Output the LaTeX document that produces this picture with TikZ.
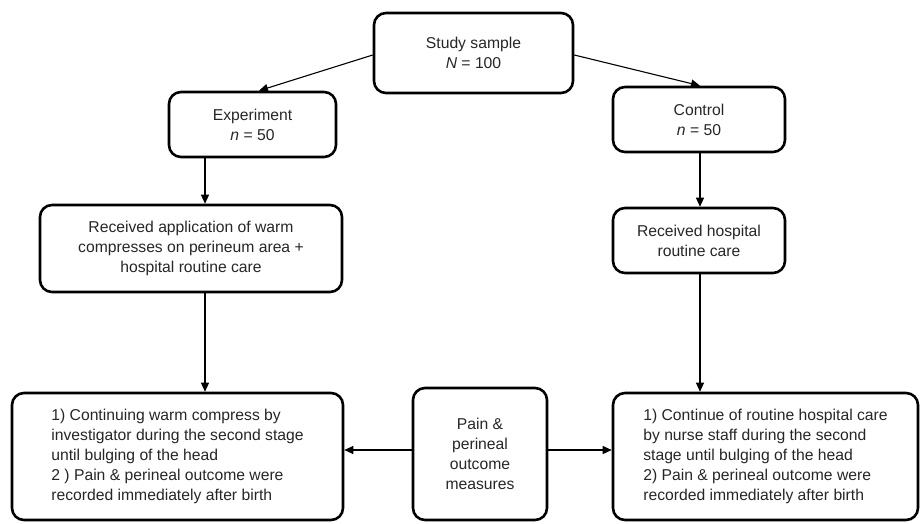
\documentclass[tikz,border=0pt]{standalone}
\usepackage{fontspec}
\setmainfont{Liberation Sans}
\usetikzlibrary{arrows.meta}
\begin{document}
\begin{tikzpicture}[x=1pt,y=-1pt,
  box/.style={draw=black, line width=2.6pt, rounded corners=12pt, inner sep=0pt,
    font=\fontsize{15.7}{20}\selectfont, text=black!85},
  arr/.style={line width=1.1pt, -{Triangle[length=9pt,width=8pt]}}]
\useasboundingbox (0,0) rectangle (921,523);
\node[box, minimum width=199pt, minimum height=80pt, align=center] (study) at (473.5,53) {Study sample\\\textit{N} = 100};
\node[box, minimum width=167pt, minimum height=65pt, align=center] (exp) at (252.5,124.5) {Experiment\\\textit{n} = 50};
\node[box, minimum width=172pt, minimum height=65pt, align=center] (ctl) at (699,119.5) {Control\\\textit{n} = 50};
\node[box, minimum width=302pt, minimum height=87pt, align=center] (rw) at (191,248.5) {Received application of warm\\compresses on perineum area +\\hospital routine care};
\node[box, minimum width=172pt, minimum height=65pt, align=center] (rh) at (699,240.5) {Received hospital\\routine care};
\node[box, minimum width=331pt, minimum height=127pt, align=left] (lb) at (177.5,456.5) {1) Continuing warm compress by\\investigator during the second stage\\until bulging of the head\\2 ) Pain \& perineal outcome were\\recorded immediately after birth};
\node[box, minimum width=134pt, minimum height=132pt, align=center] (mid) at (480,454) {Pain \&\\perineal\\outcome\\measures};
\node[box, minimum width=305pt, minimum height=127pt, align=left] (rb) at (765.5,456.5) {1) Continue of routine hospital care\\by nurse staff during the second\\stage until bulging of the head\\2) Pain \& perineal outcome were\\recorded immediately after birth};
\coordinate (xl) at (205,0);
\coordinate (xr) at (700,0);
\coordinate (ym) at (0,450);
\draw[arr] ([yshift=-2pt]study.west) -- ([xshift=6.5pt]exp.north);
\draw[arr] ([yshift=-2pt]study.east) -- ([xshift=1pt]ctl.north);
\draw[arr] (exp.south -| xl) -- (rw.north -| xl);
\draw[arr] (ctl.south -| xr) -- (rh.north -| xr);
\draw[arr] (rw.south -| xl) -- (lb.north -| xl);
\draw[arr] (rh.south -| xr) -- (rb.north -| xr);
\draw[arr] (mid.west |- ym) -- (lb.east |- ym);
\draw[arr] (mid.east |- ym) -- (rb.west |- ym);
\end{tikzpicture}
\end{document}
